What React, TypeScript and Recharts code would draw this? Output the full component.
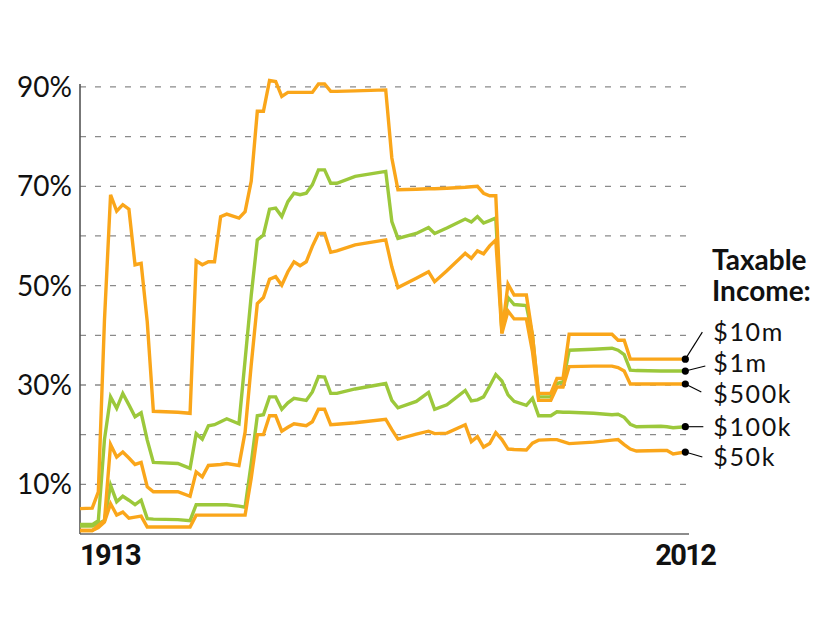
import React from 'react';
import { LineChart, Line, XAxis, YAxis, ReferenceLine } from 'recharts';

// Key years (breakpoints)
const years = [
  1913, 1915, 1916, 1917, 1918, 1919, 1920, 1921, 1922, 1923,
  1924, 1925, 1929, 1931, 1932, 1933, 1934, 1935, 1936, 1937,
  1939, 1940, 1941, 1942, 1943, 1944, 1945, 1946, 1947, 1948,
  1949, 1950, 1951, 1952, 1953, 1954, 1955, 1958, 1963, 1964,
  1965, 1968, 1970, 1971, 1973, 1976, 1977, 1978, 1979, 1980,
  1981, 1982, 1983, 1984, 1986, 1987, 1988, 1990, 1991, 1992,
  1993, 1997, 2000, 2001, 2002, 2003, 2004, 2008, 2009, 2010,
  2012,
];

// Marginal tax rate (%) at each taxable income level
const rate10m = [
  5.1, 5.2, 8.5, 43, 68.3, 65.0, 66.3, 65.4, 54.2, 54.5,
  42.7, 24.7, 24.5, 24.3, 55.0, 54.2, 54.8, 54.8, 63.9, 64.4,
  63.6, 64.9, 71.0, 85.1, 85.1, 91.3, 91.1, 88.1, 88.9, 88.9,
  88.9, 88.9, 88.9, 90.6, 90.6, 89.1, 89.1, 89.2, 89.4, 75.7,
  69.3, 69.4, 69.5, 69.5, 69.6, 69.8, 69.9, 70.0, 68.6, 68.1,
  68.1, 40.4, 50.3, 48.1, 48.1, 40.0, 28.3, 28.3, 31.3, 31.3,
  40.2, 40.2, 40.2, 39.0, 39.0, 35.2, 35.2, 35.2, 35.2, 35.2,
  35.2,
];
const rate1m = [
  1.9, 1.9, 2.7, 19, 27.6, 25.3, 28.3, 26.0, 23.6, 24.4,
  18.9, 14.4, 14.2, 13.2, 20.2, 19.1, 21.8, 22.0, 22.6, 23.2,
  22.2, 35.0, 48.0, 59.2, 60.2, 65.4, 65.6, 63.9, 66.9, 68.6,
  68.3, 68.6, 70.3, 73.3, 73.3, 70.6, 70.6, 72.0, 73.0, 62.9,
  59.5, 60.5, 61.7, 60.5, 61.6, 63.4, 62.8, 63.9, 62.6, 63.1,
  63.6, 41.0, 47.6, 46.2, 46.0, 40.0, 27.6, 27.6, 30.3, 30.6,
  37.0, 37.2, 37.4, 37.0, 36.1, 33.0, 32.9, 32.8, 32.8, 32.8,
  32.8,
];
const rate500k = [
  0.7, 0.7, 1.7, 2.7, 18.0, 15.5, 16.5, 15.3, 14.0, 14.4,
  9.5, 8.5, 8.5, 7.6, 12.5, 11.5, 13.8, 13.9, 14.0, 14.2,
  13.8, 20.5, 34.0, 46.4, 47.6, 51.3, 51.8, 50.1, 52.8, 54.8,
  54.0, 54.8, 57.9, 60.5, 60.5, 56.7, 57.0, 58.2, 59.2, 53.8,
  49.6, 51.5, 52.8, 50.8, 53.0, 56.5, 55.5, 57.0, 56.4, 58.0,
  59.2, 40.4, 44.9, 43.3, 43.3, 36.7, 26.9, 26.9, 29.6, 29.6,
  33.7, 33.8, 33.8, 33.5, 32.8, 30.2, 30.2, 30.2, 30.2, 30.2,
  30.2,
];
const rate100k = [
  1.6, 1.6, 2.1, 2.7, 9.8, 6.5, 7.6, 6.8, 5.9, 6.8,
  3.1, 3.0, 2.9, 2.7, 5.9, 5.9, 5.9, 5.9, 5.9, 5.9,
  5.6, 5.4, 14.2, 23.8, 24.0, 27.6, 27.6, 25.1, 26.4, 27.3,
  27.1, 26.9, 28.6, 31.7, 31.6, 28.3, 28.3, 29.2, 30.3, 26.9,
  25.4, 26.7, 28.5, 25.1, 26.0, 28.9, 26.8, 27.0, 27.6, 29.8,
  32.1, 30.8, 28.0, 26.7, 25.9, 27.3, 23.8, 23.8, 24.6, 24.5,
  24.5, 24.3, 24.0, 24.1, 23.5, 22.1, 21.6, 21.7, 21.6, 21.4,
  21.6,
];
const rate50k = [
  0.7, 0.7, 1.3, 2.4, 6.1, 3.8, 4.4, 3.2, 3.4, 3.6,
  1.4, 1.4, 1.4, 1.4, 3.8, 3.8, 3.8, 3.8, 3.8, 3.8,
  3.8, 3.8, 11.2, 20.0, 20.0, 23.8, 23.8, 20.7, 21.5, 22.2,
  22.0, 21.8, 22.6, 25.1, 25.1, 22.0, 22.1, 22.4, 23.1, 21.0,
  19.1, 20.1, 20.7, 20.2, 20.3, 22.0, 18.6, 19.6, 17.5, 18.2,
  20.4, 19.0, 17.1, 17.0, 16.9, 18.3, 18.9, 19.0, 19.0, 18.6,
  18.2, 18.5, 18.9, 19.0, 18.0, 17.1, 16.7, 16.8, 16.8, 16.1,
  16.5,
];

const seriesLabels = ['$10m', '$1m', '$500k', '$100k', '$50k'];
const yTicks = [10, 30, 50, 70, 90];
const gridValues = [10, 20, 30, 40, 50, 60, 70, 80, 90];
const xTicks = [1913, 2012];
const legendTitle = ['Taxable', 'Income:'];

const data = years.map((year, i) => ({
  year,
  r10m: rate10m[i],
  r1m: rate1m[i],
  r500k: rate500k[i],
  r100k: rate100k[i],
  r50k: rate50k[i],
}));

const ORANGE = '#FAA61A';
const GREEN = '#9CC83B';

// style / layout of each series and its end label
const seriesStyle = [
  { key: 'r10m', label: seriesLabels[0], color: ORANGE, lx: 17, ly: -27, ty: -18 },
  { key: 'r1m', label: seriesLabels[1], color: GREEN, lx: 20, ly: -5, ty: 1 },
  { key: 'r500k', label: seriesLabels[2], color: ORANGE, lx: 16, ly: 8, ty: 19 },
  { key: 'r100k', label: seriesLabels[3], color: GREEN, lx: 18, ly: 0, ty: 9 },
  { key: 'r50k', label: seriesLabels[4], color: ORANGE, lx: 17, ly: 5, ty: 14 },
];

const LABEL_FONT = 'Lato, "Open Sans", sans-serif';

const makeEndDot = (s: any) => (props: any) => {
  const { cx, cy, index } = props;
  if (index !== years.length - 1 || cx == null || cy == null) {
    return <g key={`d-${s.key}-${index}`} />;
  }
  return (
    <g key={`d-${s.key}-${index}`}>
      <line x1={cx} y1={cy} x2={cx + s.lx} y2={cy + s.ly} stroke="#000" strokeWidth={1.1} />
      <circle cx={cx} cy={cy} r={3.6} fill="#000" />
      <text
        x={cx + 28}
        y={cy + s.ty}
        fontFamily={LABEL_FONT}
        fontSize={25}
        letterSpacing={1.6}
        fill="#111"
      >
        {s.label}
      </text>
    </g>
  );
};

const XTick = (props: any) => {
  const { x, y, payload } = props;
  const first = payload.value === xTicks[0];
  return (
    <text
      x={x}
      y={y + 31}
      textAnchor={first ? 'start' : 'middle'}
      fontFamily="Roboto, sans-serif"
      fontWeight={700}
      fontSize={29}
      letterSpacing={-1.6}
      fill="#111"
    >
      {payload.value}
    </text>
  );
};

const drawOrder = [3, 4, 1, 2, 0];

export default function App() {
  return (
    <div style={{ position: 'relative', width: 820, height: 620 }}>
      <LineChart
        width={820}
        height={620}
        data={data}
        margin={{ top: 69, right: 139, left: 10, bottom: 54 }}
      >
        <XAxis
          dataKey="year"
          type="number"
          domain={[1913, 2012.6]}
          ticks={xTicks}
          tickLine={false}
          tickSize={0}
          tickMargin={0}
          height={40}
          axisLine={{ stroke: '#666', strokeWidth: 1.6 }}
          tick={<XTick />}
          interval={0}
        />
        <YAxis
          type="number"
          domain={[0, 92]}
          ticks={yTicks}
          tickFormatter={(v: number) => `${v}%`}
          axisLine={false}
          tickLine={false}
          tickSize={0}
          tickMargin={8}
          width={62}
          interval={0}
          tick={{ fill: '#111', fontSize: 28, fontFamily: LABEL_FONT }}
        />
        {gridValues.map((v) => (
          <ReferenceLine
            key={`g${v}`}
            y={v}
            stroke="#8a8a8a"
            strokeWidth={1.3}
            strokeDasharray="6 9"
          />
        ))}
        <ReferenceLine
          segment={[
            { x: 1913, y: 0 },
            { x: 1913, y: 90.6 },
          ]}
          stroke="#555"
          strokeWidth={1.6}
        />
        {drawOrder.map((i) => {
          const s = seriesStyle[i];
          return (
            <Line
              key={s.key}
              type="linear"
              dataKey={s.key}
              stroke={s.color}
              strokeWidth={3.4}
              dot={makeEndDot(s)}
              activeDot={false}
              isAnimationActive={false}
              strokeLinejoin="miter"
            />
          );
        })}
      </LineChart>
      <div
        style={{
          position: 'absolute',
          left: 704,
          top: 236,
          fontFamily: LABEL_FONT,
          fontWeight: 700,
          fontSize: 28,
          lineHeight: '31px',
          color: '#111',
          whiteSpace: 'nowrap',
        }}
      >
        {legendTitle.map((t) => (
          <div key={t}>{t}</div>
        ))}
      </div>
    </div>
  );
}
